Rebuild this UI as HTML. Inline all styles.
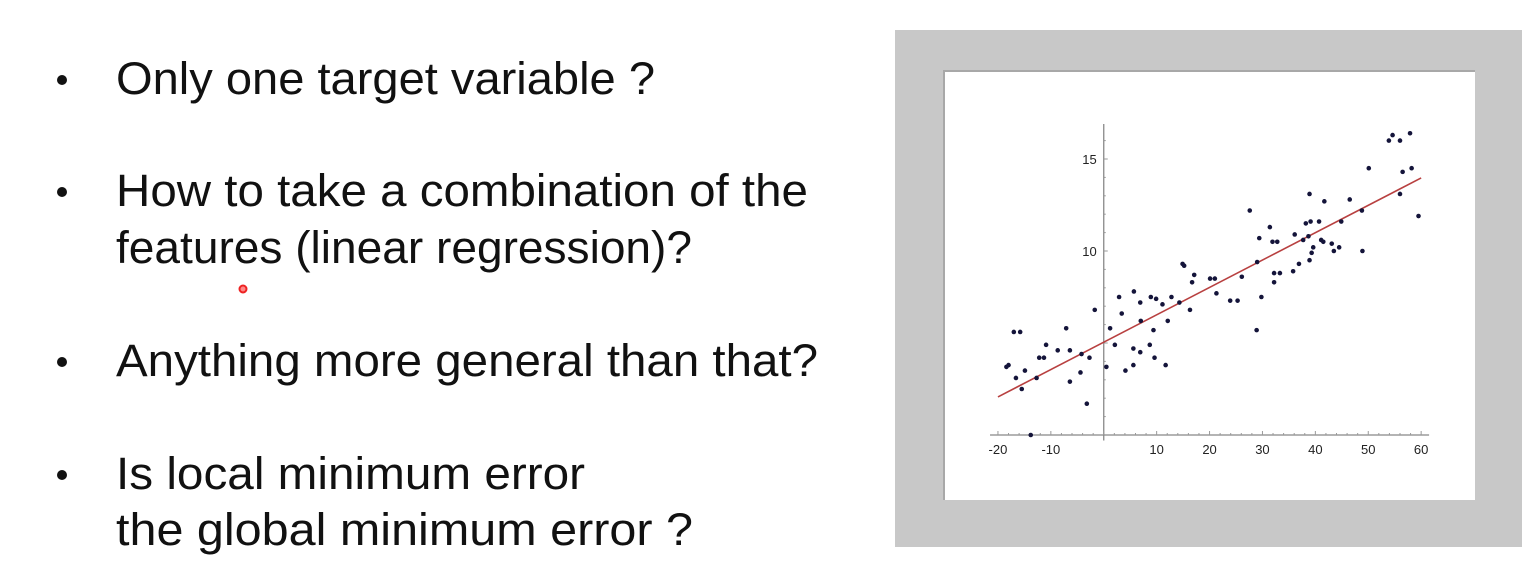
<!DOCTYPE html>
<html><head><meta charset="utf-8"><style>
html,body{margin:0;padding:0;background:#fff;}
svg{display:block;}
</style></head><body>
<svg width="1538" height="568" viewBox="0 0 1538 568" xmlns="http://www.w3.org/2000/svg" font-family="Liberation Sans, sans-serif">
<g fill="#111" font-size="45">
  <circle cx="62" cy="80" r="5"/>
  <text x="116" y="94" textLength="539" lengthAdjust="spacingAndGlyphs">Only one target variable ?</text>
  <circle cx="62" cy="192" r="5"/>
  <text x="116" y="206" textLength="692" lengthAdjust="spacingAndGlyphs">How to take a combination of the</text>
  <text x="116" y="263" textLength="576" lengthAdjust="spacingAndGlyphs">features (linear regression)?</text>
  <circle cx="62" cy="362" r="5"/>
  <text x="116" y="376" textLength="702" lengthAdjust="spacingAndGlyphs">Anything more general than that?</text>
  <circle cx="62" cy="475" r="5"/>
  <text x="116" y="489" textLength="469" lengthAdjust="spacingAndGlyphs">Is local minimum error</text>
  <text x="116" y="545" textLength="577" lengthAdjust="spacingAndGlyphs">the global  minimum error ?</text>
</g>
<circle cx="243" cy="289" r="3.5" fill="#f88" stroke="#e22" stroke-width="2"/>
<rect x="895" y="30" width="627" height="517" fill="#c8c8c8"/>
<rect x="943" y="70" width="532" height="430" fill="#a8a8a8"/>
<rect x="945" y="72" width="530" height="428" fill="#fff"/>
<g id="chart"></g>
</svg>
<script>
const xs=[-18.0,-18.4,-17.0,-15.8,-16.6,-15.5,-14.9,-12.7,-12.2,-11.3,-10.9,-8.7,-7.1,-6.4,-6.4,-4.4,-4.2,-3.2,-2.7,-1.7,-13.8,0.5,1.2,2.1,2.9,3.4,4.1,5.6,5.6,5.7,6.9,6.9,7.0,8.7,8.9,9.4,9.6,9.9,11.1,11.7,12.1,12.8,14.3,14.9,15.2,16.3,16.7,17.1,20.1,21.0,21.3,23.9,25.3,26.1,27.6,28.9,29.0,29.4,29.8,31.4,31.9,32.2,32.2,32.8,33.3,35.8,36.1,36.9,37.7,38.2,38.7,38.9,38.9,39.1,39.3,39.6,40.7,41.1,41.5,41.7,43.1,43.5,44.5,44.9,46.5,48.8,48.9,50.1,53.9,54.6,56.0,56.0,56.5,57.9,58.2,59.5];
const ys=[3.8,3.7,5.6,5.6,3.1,2.5,3.5,3.1,4.2,4.2,4.9,4.6,5.8,4.6,2.9,3.4,4.4,1.7,4.2,6.8,0.0,3.7,5.8,4.9,7.5,6.6,3.5,3.8,4.7,7.8,7.2,4.5,6.2,4.9,7.5,5.7,4.2,7.4,7.1,3.8,6.2,7.5,7.2,9.3,9.2,6.8,8.3,8.7,8.5,8.5,7.7,7.3,7.3,8.6,12.2,5.7,9.4,10.7,7.5,11.3,10.5,8.3,8.8,10.5,8.8,8.9,10.9,9.3,10.6,11.5,10.8,13.1,9.5,11.6,9.9,10.2,11.6,10.6,10.5,12.7,10.4,10.0,10.2,11.6,12.8,12.2,10.0,14.5,16.0,16.3,16.0,13.1,14.3,16.4,14.5,11.9];
const fitX=[-20,60];
const fitY=[2.07,13.97];
const xTicks=[-20,-10,10,20,30,40,50,60];
const yTicks=[10,15];
const X=v=>1103.75+v*5.29, Y=v=>435-v*18.4;
const NS='http://www.w3.org/2000/svg', g=document.getElementById('chart');
function mk(t,a){const e=document.createElementNS(NS,t);for(const k in a)e.setAttribute(k,a[k]);g.appendChild(e);return e;}
let ax=mk('line',{x1:X(-21.5),x2:X(61.5),y1:Y(0),y2:Y(0),stroke:'#888','stroke-width':1.3});


let ay=mk('line',{x1:X(0),x2:X(0),y1:Y(-0.3),y2:Y(16.9),stroke:'#888','stroke-width':1.3});


for(let v=-20;v<=60;v+=2){let t=mk('line',{x1:X(v),x2:X(v),y1:Y(0),y2:Y(0)-(v%10==0?4:2),stroke:'#999'});

}
for(let v=1;v<=16;v++){let t=mk('line',{x1:X(0),x2:X(0)+(v%5==0?4:2),y1:Y(v),y2:Y(v),stroke:'#999'});

}
xTicks.forEach(v=>{let t=mk('text',{x:X(v),y:Y(0)+19,'text-anchor':'middle','font-size':13,fill:'#222'});t.textContent=v;

});
yTicks.forEach(v=>{let t=mk('text',{x:X(0)-7,y:Y(v)+5,'text-anchor':'end','font-size':13,fill:'#222'});t.textContent=v;

});
let fl=mk('line',{x1:X(fitX[0]),y1:Y(fitY[0]),x2:X(fitX[1]),y2:Y(fitY[1]),stroke:'#b84040','stroke-width':1.6});


xs.forEach((v,i)=>{let c=mk('circle',{cx:X(v),cy:Y(ys[i]),r:2.3,fill:'#14143a'});

});
</script>
</body></html>
